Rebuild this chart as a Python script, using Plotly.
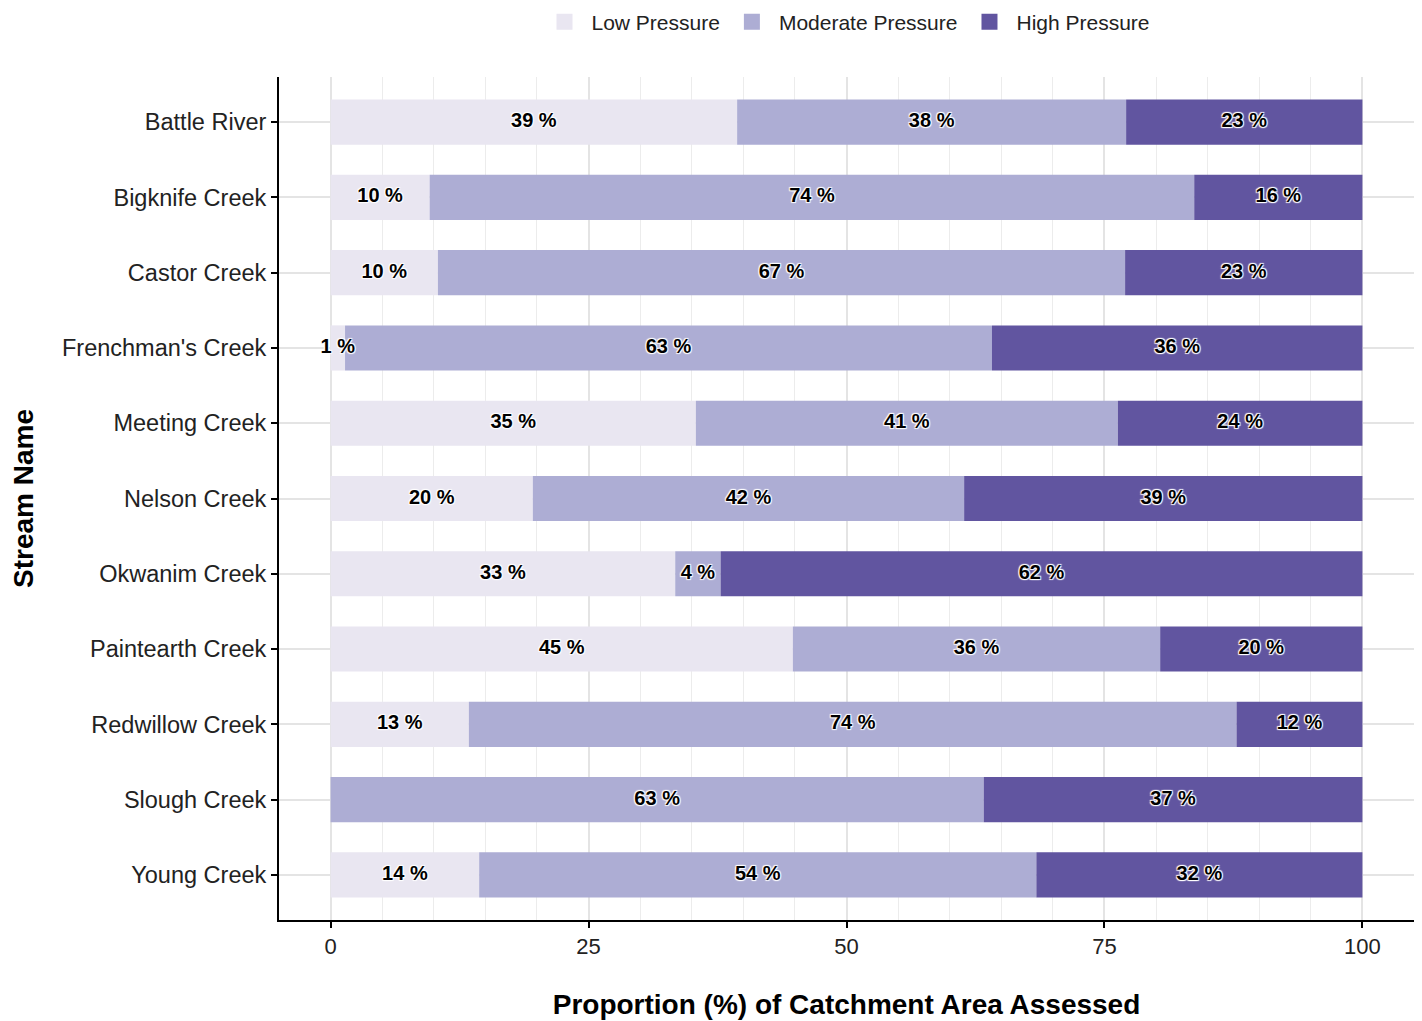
import plotly.graph_objects as go

streams = ["Battle River", "Bigknife Creek", "Castor Creek", "Frenchman's Creek",
           "Meeting Creek", "Nelson Creek", "Okwanim Creek", "Paintearth Creek",
           "Redwillow Creek", "Slough Creek", "Young Creek"]
low = [39.4, 9.6, 10.4, 1.4, 35.4, 19.6, 33.4, 44.8, 13.4, 0.0, 14.4]
moderate = [37.7, 74.1, 66.6, 62.7, 40.9, 41.8, 4.4, 35.6, 74.4, 63.3, 54.0]
high = [22.9, 16.3, 23.0, 35.9, 23.7, 38.6, 62.2, 19.6, 12.2, 36.7, 31.6]

series = [("Low Pressure", low, "#E9E6F1"),
          ("Moderate Pressure", moderate, "#ADADD4"),
          ("High Pressure", high, "#6155A0")]

font = "Liberation Sans, Arial, sans-serif"

fig = go.Figure()
base = [0.0] * len(streams)
label_x, label_y, label_t = [], [], []
for name, vals, color in series:
    fig.add_trace(go.Bar(
        y=streams, x=vals, base=base, orientation="h", name=name,
        marker=dict(color=color, line=dict(width=0)), width=0.6,
        showlegend=False, hoverinfo="skip"))
    # legend-only entry with a larger square swatch
    fig.add_trace(go.Scatter(
        x=[None], y=[None], mode="markers", name=name,
        marker=dict(symbol="square", size=16, color=color), showlegend=True))
    for i, v in enumerate(vals):
        if round(v) > 0:
            label_x.append(base[i] + v / 2)
            label_y.append(streams[i])
            label_t.append(f"{round(v)} %")
    base = [b + v for b, v in zip(base, vals)]

fig.add_trace(go.Scatter(
    x=label_x, y=label_y, text=label_t, mode="text", showlegend=False,
    hoverinfo="skip",
    textfont=dict(family=font, size=20, color="black", weight="bold",
                  shadow="1px 1px 1px white, -1px -1px 1px white, 1px -1px 1px white, -1px 1px 1px white")))

fig.update_layout(
    barmode="overlay",
    width=1422, height=1021,
    paper_bgcolor="white", plot_bgcolor="white",
    margin=dict(l=271, r=16, t=69, b=109, autoexpand=False),
    font=dict(family=font, size=20, color="black"),
    legend=dict(orientation="h", x=0.5, xanchor="center", y=1.065, yanchor="middle",
                font=dict(size=21, color="#222"), traceorder="normal",
                itemsizing="trace", itemwidth=44),
    xaxis=dict(range=[-5, 105], tickvals=[0, 25, 50, 75, 100], showgrid=True,
               gridcolor="#e4e4e4", gridwidth=1.5,
               minor=dict(dtick=5, showgrid=True, gridcolor="#ececec", gridwidth=1),
               showline=True, linecolor="black", linewidth=2, zeroline=False,
               ticks="outside", ticklen=6, tickcolor="black", tickwidth=1.5,
               tickfont=dict(size=22, color="#222"), automargin=False,
               title=dict(text="<b>Proportion (%) of Catchment Area Assessed</b>",
                          font=dict(size=28, color="black"), standoff=36)),
    yaxis=dict(categoryorder="array", categoryarray=streams,
               range=[10.6, -0.6], showgrid=True, gridcolor="#e4e4e4", gridwidth=1.5,
               showline=True, linecolor="black", linewidth=2, zeroline=False,
               ticks="outside", ticklen=6, tickcolor="black", tickwidth=1.5,
               tickfont=dict(size=23.5, color="#222"), automargin=False,
               title=dict(text="<b>Stream Name</b>", font=dict(size=28, color="black"),
                          standoff=28)),
)

fig.write_html("out.html")
